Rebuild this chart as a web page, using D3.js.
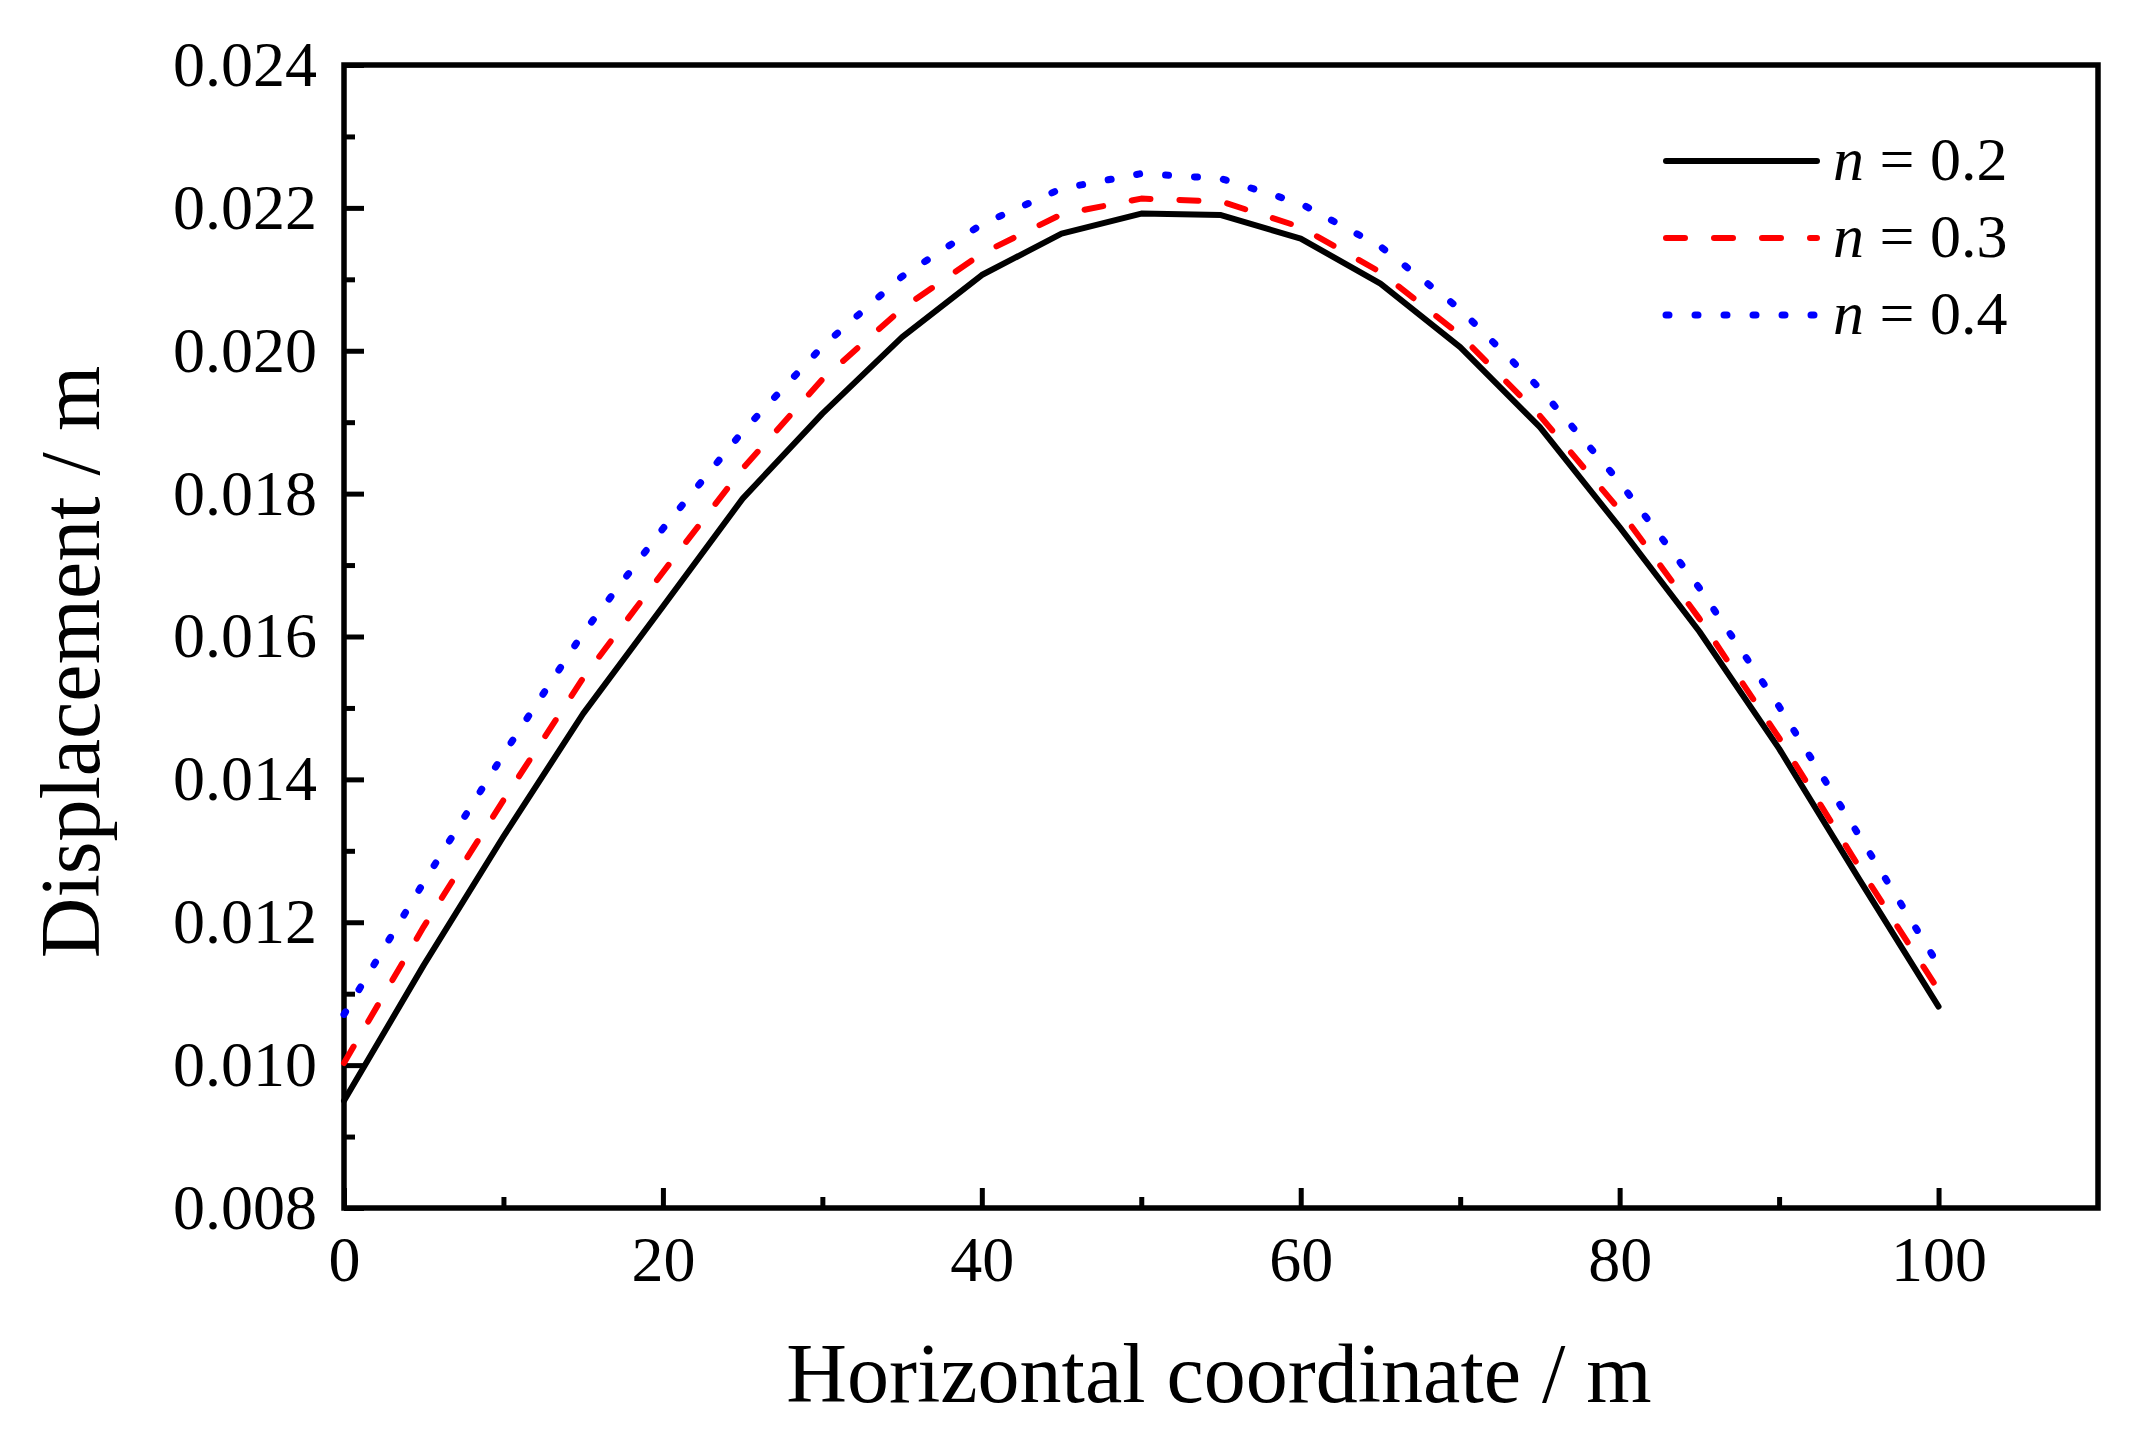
<!DOCTYPE html>
<html>
<head>
<meta charset="utf-8">
<script src="https://cdn.jsdelivr.net/npm/d3@7"></script>
<style>
  body { margin: 0; background: #fff; }
  text { font-family: "Times New Roman", "Liberation Serif", serif; fill: #000; }
</style>
</head>
<body>
<div id="chart-area"></div>
<script>
// horizontal coordinate (m)
var xs = [0, 5, 10, 15, 20, 25, 30, 35, 40, 45, 50, 55, 60, 65, 70, 75, 80, 85, 90, 95, 100];

// displacement (m) for each n
var n02 = [0.00950, 0.01140, 0.01320, 0.01492, 0.01642, 0.01793, 0.01912, 0.02019, 0.02106, 0.02164, 0.02192,
           0.02190, 0.02157, 0.02094, 0.02005, 0.01893, 0.01753, 0.01607, 0.01443, 0.01261, 0.01082];
var n03 = [0.01003, 0.01194, 0.01371, 0.01542, 0.01690, 0.01835, 0.01960, 0.02059, 0.02136, 0.02191, 0.02213,
           0.02209, 0.02173, 0.02110, 0.02022, 0.01909, 0.01777, 0.01625, 0.01458, 0.01278, 0.01105];
var n04 = [0.01071, 0.01256, 0.01435, 0.01605, 0.01751, 0.01887, 0.02006, 0.02104, 0.02177, 0.02227, 0.02248,
           0.02241, 0.02206, 0.02146, 0.02058, 0.01947, 0.01816, 0.01668, 0.01502, 0.01322, 0.01140];

var seriesNames = ["0.2", "0.3", "0.4"];

var xTicks = [0, 20, 40, 60, 80, 100];
var xMinor = [10, 30, 50, 70, 90];
var yTicks = [0.008, 0.010, 0.012, 0.014, 0.016, 0.018, 0.020, 0.022, 0.024];
var yMinor = [0.009, 0.011, 0.013, 0.015, 0.017, 0.019, 0.021, 0.023];

var W = 2141, H = 1433;
var margin = {top: 65, right: 43, bottom: 225, left: 344};
var width = W - margin.left - margin.right;
var height = H - margin.top - margin.bottom;

var svg = d3.select("#chart-area")
  .append("svg")
    .attr("width", W)
    .attr("height", H);

var g = svg.append("g")
    .attr("transform", "translate(" + margin.left + ", " + margin.top + ")");

var x = d3.scaleLinear().domain([0, 110]).range([0, width]);
var y = d3.scaleLinear().domain([0.008, 0.024]).range([height, 0]);

// axes (ticks point inward)
var bottomAxis = d3.axisBottom(x).tickValues(xTicks).tickSize(-20).tickPadding(28)
  .tickFormat(d3.format("d"));
var gx = g.append("g")
    .attr("transform", "translate(0, " + height + ")")
    .call(bottomAxis);

var gxm = g.append("g")
    .attr("transform", "translate(0, " + height + ")")
    .call(d3.axisBottom(x).tickValues(xMinor).tickSize(-11).tickFormat(""));

var leftAxis = d3.axisLeft(y).tickValues(yTicks).tickSize(-20).tickPadding(27)
  .tickFormat(d3.format(".3f"));
var gy = g.append("g").call(leftAxis);

var gym = g.append("g")
    .call(d3.axisLeft(y).tickValues(yMinor).tickSize(-11).tickFormat(""));

[gx, gxm, gy, gym].forEach(function(a) {
  a.select(".domain").remove();
  a.selectAll("line").attr("stroke", "#000").attr("stroke-width", 5);
  a.selectAll("text")
    .style("font-family", "'Times New Roman', 'Liberation Serif', serif")
    .attr("font-size", "64px")
    .attr("fill", "#000");
});

// frame
g.append("rect")
  .attr("x", 0).attr("y", 0)
  .attr("width", width).attr("height", height)
  .attr("fill", "none")
  .attr("stroke", "#000")
  .attr("stroke-width", 5.5);

// curves
var styles = [
  {data: n02, color: "#000000", dash: null, w: 6},
  {data: n03, color: "#ff0000", dash: "19,29", w: 6},
  {data: n04, color: "#0000ff", dash: "3,26", w: 7}
];

var line = d3.line()
  .x(function(d) { return x(d[0]); })
  .y(function(d) { return y(d[1]); });

styles.forEach(function(s) {
  g.append("path")
    .datum(xs.map(function(v, i) { return [v, s.data[i]]; }))
    .attr("d", line)
    .attr("fill", "none")
    .attr("stroke", s.color)
    .attr("stroke-width", s.w)
    .attr("stroke-linejoin", "round")
    .attr("stroke-linecap", "round")
    .attr("stroke-dasharray", s.dash);
});

// legend
var legend = svg.append("g");
styles.forEach(function(s, i) {
  var ly = 161 + i * 77;
  legend.append("line")
    .attr("x1", 1666).attr("x2", 1817)
    .attr("y1", ly).attr("y2", ly)
    .attr("stroke", s.color)
    .attr("stroke-width", s.w)
    .attr("stroke-linecap", "round")
    .attr("stroke-dasharray", s.dash);
  var t = legend.append("text")
    .attr("x", 1833)
    .attr("y", ly + 19)
    .attr("font-size", "62px");
  t.append("tspan").attr("font-style", "italic").text("n");
  t.append("tspan").text(" = " + seriesNames[i]);
});

// axis titles
svg.append("text")
  .attr("x", 1219)
  .attr("y", 1402)
  .attr("font-size", "84px")
  .attr("text-anchor", "middle")
  .text("Horizontal coordinate / m");

svg.append("text")
  .attr("transform", "translate(99, 662) rotate(-90)")
  .attr("font-size", "84px")
  .attr("text-anchor", "middle")
  .text("Displacement / m");
</script>
</body>
</html>
